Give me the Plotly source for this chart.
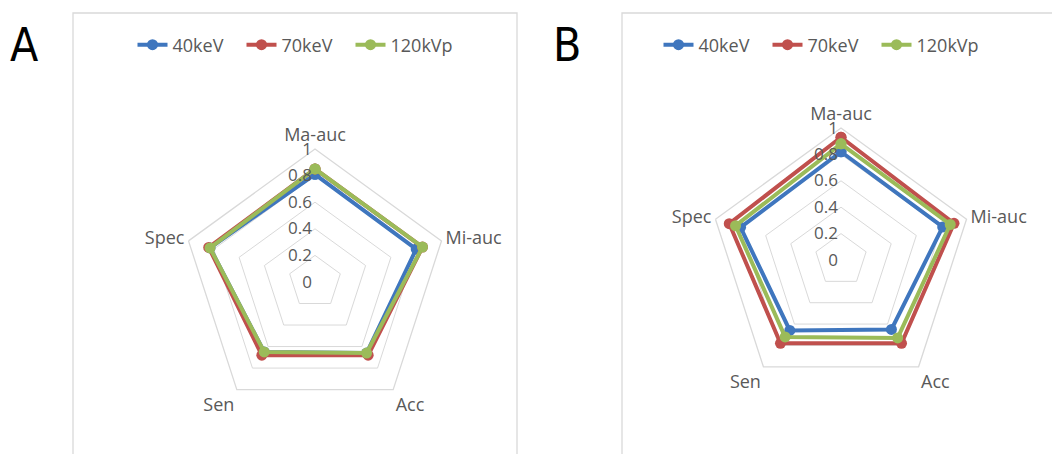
import plotly.graph_objects as go

categories = ["Ma-auc", "Mi-auc", "Acc", "Sen", "Spec"]
series_names = ["40keV", "70keV", "120kVp"]

# Panel A values (order follows categories)
a_40kev = [0.81, 0.80, 0.66, 0.65, 0.83]
a_70kev = [0.85, 0.85, 0.68, 0.68, 0.84]
a_120kvp = [0.85, 0.85, 0.66, 0.65, 0.83]

# Panel B values
b_40kev = [0.82, 0.81, 0.65, 0.66, 0.80]
b_70kev = [0.93, 0.90, 0.78, 0.78, 0.89]
b_120kvp = [0.88, 0.87, 0.73, 0.72, 0.84]

tick_vals = [0, 0.2, 0.4, 0.6, 0.8, 1]
tick_text = ["0", "0.2", "0.4", "0.6", "0.8", "1"]

colors = ["#3F76BE", "#C0504D", "#9BBB59"]
FONT = "Open Sans, Lato, sans-serif"
GRAY = "#595959"

fig = go.Figure()

panels = [
    ("polar", "legend", [a_40kev, a_70kev, a_120kvp]),
    ("polar2", "legend2", [b_40kev, b_70kev, b_120kvp]),
]
for sub, leg, vals in panels:
    for name, v, c in zip(series_names, vals, colors):
        fig.add_trace(go.Scatterpolar(
            r=v + [v[0]], theta=categories + [categories[0]],
            name=name, subplot=sub, legend=leg,
            mode="lines+markers",
            line=dict(color=c, width=4),
            marker=dict(color=c, size=11),
        ))

W, H = 1052, 454

def dom(cx, cy, rad):
    return dict(x=[(cx - rad) / W, (cx + rad) / W],
                y=[(H - cy - rad) / H, (H - cy + rad) / H])

def polar_cfg(d):
    return dict(
        domain=d,
        gridshape="linear",
        bgcolor="white",
        radialaxis=dict(range=[0, 1], tickvals=tick_vals, ticktext=tick_text,
                        ticksuffix="\u00a0\u00a0",
                        angle=90, tickangle=90, side="counterclockwise",
                        showline=False, ticks="", gridcolor="#d9d9d9",
                        gridwidth=1.3,
                        tickfont=dict(family=FONT, size=17, color=GRAY)),
        angularaxis=dict(rotation=90, direction="clockwise", showgrid=False,
                         showline=True, linecolor="#d9d9d9", linewidth=1.3,
                         ticks="",
                         tickfont=dict(family=FONT, size=18, color=GRAY)),
    )

legend_cfg = dict(orientation="h", xanchor="center", yanchor="middle",
                  font=dict(family=FONT, size=18, color=GRAY),
                  bgcolor="rgba(0,0,0,0)", itemwidth=30, entrywidth=64,
                  tracegroupgap=0)

fig.update_layout(
    width=W, height=H,
    margin=dict(l=0, r=0, t=0, b=0),
    paper_bgcolor="white",
    polar=polar_cfg(dom(315, 282, 133)),
    polar2=polar_cfg(dom(841, 260, 132)),
    legend=dict(legend_cfg, x=296 / W, y=1 - 45 / H),
    legend2=dict(legend_cfg, x=822 / W, y=1 - 45 / H),
    shapes=[
        dict(type="rect", xref="paper", yref="paper",
             x0=73 / W, x1=517 / W, y0=-0.05, y1=1 - 13 / H,
             line=dict(color="#d9d9d9", width=1.3)),
        dict(type="rect", xref="paper", yref="paper",
             x0=622 / W, x1=1.05, y0=-0.05, y1=1 - 13 / H,
             line=dict(color="#d9d9d9", width=1.3)),
    ],
    annotations=[
        dict(text="A", x=24 / W, y=1 - 45 / H, xref="paper", yref="paper",
             showarrow=False, xanchor="center", yanchor="middle",
             font=dict(family="Liberation Sans Narrow, DejaVu Sans Condensed, sans-serif",
                       size=46, color="black")),
        dict(text="B", x=567 / W, y=1 - 45 / H, xref="paper", yref="paper",
             showarrow=False, xanchor="center", yanchor="middle",
             font=dict(family="Liberation Sans Narrow, DejaVu Sans Condensed, sans-serif",
                       size=46, color="black")),
    ],
)

fig.write_html("out.html",
               config={"displayModeBar": False},
               post_script="document.body.style.margin='0';document.body.style.overflow='hidden';")
